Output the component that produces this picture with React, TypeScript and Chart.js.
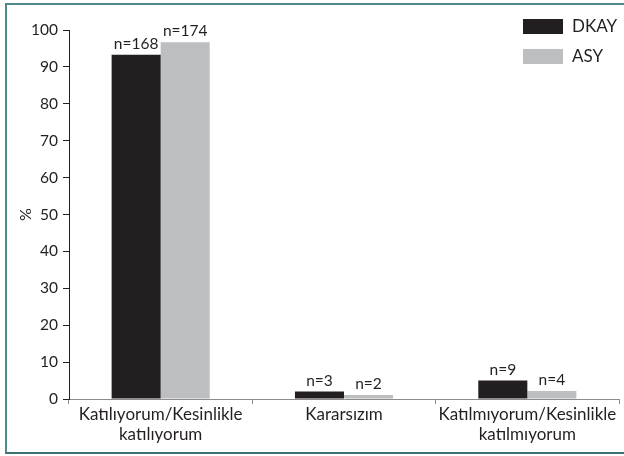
import React, { useEffect, useRef } from "react";
import { Chart, registerables } from "chart.js";

Chart.register(...registerables);

const categories: string[][] = [
  ["Katılıyorum/Kesinlikle", "katılıyorum"],
  ["Kararsızım"],
  ["Katılmıyorum/Kesinlikle", "katılmıyorum"],
];
const dkayValues = [93.3, 2.0, 5.0];
const asyValues = [96.7, 1.1, 2.2];
const dkayCounts = ["n=168", "n=3", "n=9"];
const asyCounts = ["n=174", "n=2", "n=4"];
const yTicks = [0, 10, 20, 30, 40, 50, 60, 70, 80, 90, 100];

const FONT = "Lato, 'Open Sans', sans-serif";
const INK = "#231f20";
const GREY = "#bcbec0";

export default function App() {
  const ref = useRef<HTMLCanvasElement | null>(null);

  useEffect(() => {
    document.body.style.margin = "0";
    const canvas = ref.current;
    if (!canvas) return;

    const counts = [dkayCounts, asyCounts];

    const labelPlugin = {
      id: "nLabels",
      afterDatasetsDraw(chart: any) {
        const ctx = chart.ctx;
        ctx.save();
        ctx.fillStyle = INK;
        ctx.font = `15.5px ${FONT}`;
        ctx.textAlign = "center";
        ctx.textBaseline = "alphabetic";
        chart.data.datasets.forEach((ds: any, di: number) => {
          const meta = chart.getDatasetMeta(di);
          meta.data.forEach((bar: any, i: number) => {
            ctx.fillText(counts[di][i], bar.x, bar.y - 6);
          });
        });
        ctx.restore();
      },
    };

    const legendPlugin = {
      id: "customLegend",
      afterDraw(chart: any) {
        const ctx = chart.ctx;
        ctx.save();
        ctx.font = `17px ${FONT}`;
        ctx.textBaseline = "middle";
        ctx.textAlign = "left";
        chart.data.datasets.forEach((ds: any, di: number) => {
          const y = 19 + di * 30;
          ctx.fillStyle = ds.backgroundColor;
          ctx.fillRect(523, y, 40, 15);
          ctx.fillStyle = INK;
          ctx.fillText(ds.label, 572, y + 8);
        });
        ctx.restore();
      },
    };

    const chart = new Chart(canvas, {
      type: "bar",
      data: {
        labels: categories,
        datasets: [
          { label: "DKAY", data: dkayValues, backgroundColor: INK },
          { label: "ASY", data: asyValues, backgroundColor: GREY },
        ],
      },
      options: {
        animation: false,
        responsive: false,
        devicePixelRatio: 1,
        layout: { padding: { left: 12, right: 5, top: 30, bottom: 0 } },
        datasets: {
          bar: { categoryPercentage: 0.535, barPercentage: 1 },
        },
        plugins: {
          legend: { display: false },
          tooltip: { enabled: false },
        },
        scales: {
          x: {
            grid: {
              drawOnChartArea: false,
              drawTicks: true,
              tickLength: 5,
              color: "#8c8c8c",
              offset: true,
            },
            border: { display: true, color: "#8c8c8c", width: 1 },
            ticks: {
              color: INK,
              font: { family: FONT, size: 17, lineHeight: 1.15 },
              padding: 1,
              maxRotation: 0,
              autoSkip: false,
            },
            afterFit(scale: any) {
              scale.height = 57;
            },
          },
          y: {
            min: 0,
            max: 100,
            afterBuildTicks(scale: any) {
              scale.ticks = yTicks.map((v) => ({ value: v }));
            },
            grid: {
              drawOnChartArea: false,
              drawTicks: true,
              tickLength: 6,
              color: INK,
            },
            border: { display: true, color: INK, width: 1 },
            ticks: {
              color: INK,
              font: { family: FONT, size: 15.5 },
              padding: 5,
            },
            title: {
              display: true,
              text: "%",
              color: INK,
              font: { family: FONT, size: 16 },
              padding: { top: 4, bottom: 0 },
            },
            afterFit(scale: any) {
              scale.width = 57;
            },
          },
        },
      },
      plugins: [labelPlugin, legendPlugin],
    });

    return () => chart.destroy();
  }, []);

  return (
    <div style={{ position: "relative", width: 624, height: 456, overflow: "hidden", background: "#fff" }}>
      <div
        style={{
          position: "absolute",
          left: 5,
          top: 3,
          width: 640,
          height: 447,
          borderLeft: "2px solid #4f8a8b",
          borderTop: "2px solid #4f8a8b",
          borderBottom: "2px solid #3d6f70",
          boxSizing: "content-box",
        }}
      />
      <canvas ref={ref} width={624} height={456} style={{ position: "absolute", left: 0, top: 0 }} />
    </div>
  );
}
